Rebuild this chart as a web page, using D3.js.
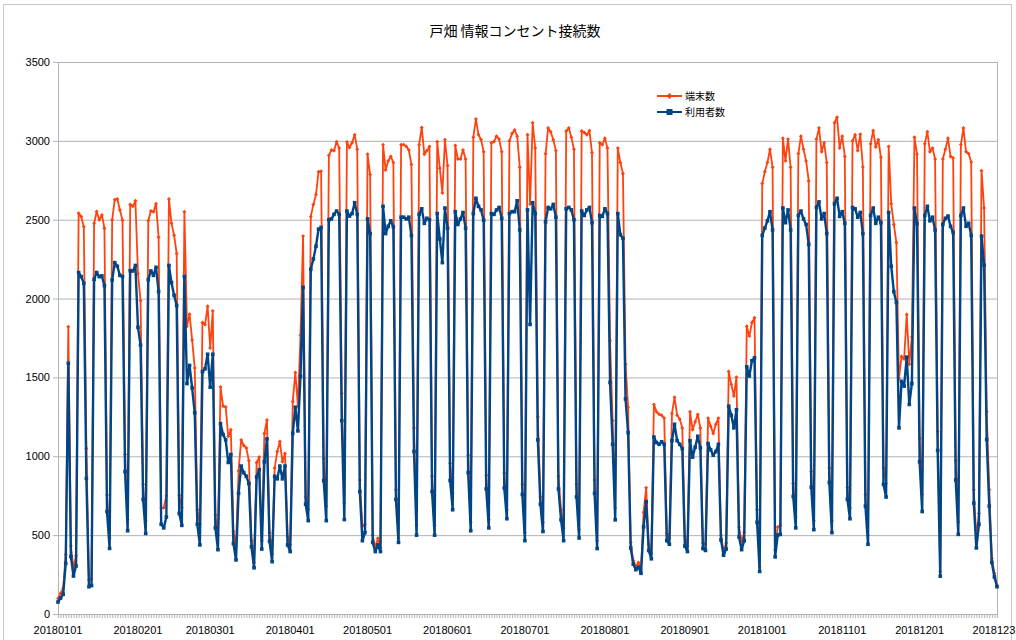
<!DOCTYPE html>
<html>
<head>
<meta charset="utf-8">
<script src="https://cdn.jsdelivr.net/npm/d3@7"></script>
<style>
body { margin: 0; background: #fff; }
text { font-family: "Liberation Sans", Arial, sans-serif; }
.cjk { font-family: "Noto Sans CJK JP", "Noto Sans", sans-serif; }
</style>
</head>
<body>
<svg id="chart" width="1016" height="640"></svg>
<script>
var title = "戸畑 情報コンセント接続数";
var seriesNames = ["端末数", "利用者数"];
var tickLabels = ["20180101", "20180201", "20180301", "20180401", "20180501", "20180601",
	"20180701", "20180801", "20180901", "20181001", "20181101", "20181201", "20181231"];
var yTicks = [0, 500, 1000, 1500, 2000, 2500, 3000, 3500];

// 端末数 (one value per day, 2018-01-01 .. 2018-12-31)
var terminals = [
	99, 131, 163, 378, 1822, 431, 290,
	370, 2541, 2520, 2456, 1050, 216, 222,
	2478, 2552, 2499, 2530, 2446, 755, 480,
	2499, 2627, 2631, 2562, 2497, 1011, 597,
	2597, 2585, 2620, 2159, 1986, 822, 592,
	2493, 2555, 2551, 2601, 2389, 673, 673,
	749, 2631, 2477, 2401, 2286, 753, 673,
	2551, 1825, 1901, 1737, 1560, 661, 569,
	1848, 1836, 1951, 1687, 1922, 627, 500,
	1440, 1318, 1313, 1127, 1168, 523, 431,
	908, 1104, 1069, 1053, 972, 465, 327,
	961, 995, 465, 1145, 1230, 516, 380,
	926, 1030, 1094, 965, 1018, 488, 440,
	1348, 1532, 1318, 1767, 2396, 742, 661,
	2521, 2597, 2659, 2804, 2808, 984, 684,
	2908, 2942, 2938, 2995, 2954, 1398, 703,
	2993, 2958, 2988, 3039, 2947, 850, 557,
	569, 2915, 2786, 500, 420, 480, 420,
	2976, 2815, 2873, 2901, 2862, 788, 480,
	2976, 2976, 2965, 2942, 2850, 1180, 562,
	2976, 3085, 2915, 2938, 2965, 873, 562,
	2995, 2827, 2670, 3007, 2843, 956, 765,
	2970, 2885, 2885, 2942, 2885, 1007, 581,
	3023, 3138, 3039, 3007, 2931, 880, 597,
	2988, 2995, 3030, 3011, 2931, 892, 661,
	3000, 3046, 3069, 3030, 2832, 823, 516,
	3039, 2600, 3115, 2954, 1249, 742, 580,
	2919, 3081, 3058, 3007, 2938, 873, 661,
	546, 3062, 3081, 3023, 2947, 823, 535,
	3062, 3053, 3039, 3065, 2924, 850, 465,
	2988, 2976, 3016, 2954, 1733, 1226, 673,
	2954, 2862, 2793, 1583, 1311, 454, 340,
	300, 327, 280, 645, 800, 440, 380,
	1329, 1283, 1267, 1260, 1242, 511, 480,
	1272, 1375, 1260, 1237, 1180, 493, 430,
	1283, 1168, 1219, 1265, 1180, 450, 440,
	1242, 1191, 1145, 1203, 1242, 500, 400,
	450, 1537, 1456, 1382, 1502, 551, 458,
	518, 1825, 1762, 1848, 1878, 661, 300,
	2730, 2804, 2862, 2947, 2832, 408, 551,
	562, 3016, 2873, 3011, 2832, 827, 615,
	2919, 3030, 2947, 2873, 2746, 903, 592,
	3011, 3081, 2931, 2988, 2862, 926, 592,
	3115, 3150, 2954, 3030, 2901, 800, 673,
	3000, 3039, 2938, 3042, 2834, 758, 500,
	2981, 3065, 2961, 3007, 2896, 926, 827,
	2965, 2601, 2470, 2355, 1491, 1633, 1617,
	1899, 1583, 1756, 3023, 2915, 1115, 758,
	2981, 3058, 2931, 2954, 2885, 1157, 270,
	2885, 2947, 3016, 2901, 2892, 972, 581,
	2976, 3081, 2931, 2919, 2866, 788, 480,
	638, 2811, 2574, 1283, 788, 350, 258,
	182
];

// 利用者数
var users = [
	76, 101, 125, 321, 1590, 364, 241,
	304, 2165, 2139, 2097, 860, 173, 180,
	2122, 2165, 2139, 2144, 2082, 649, 416,
	2118, 2228, 2205, 2147, 2140, 903, 528,
	2177, 2175, 2210, 1818, 1705, 726, 511,
	2120, 2175, 2147, 2198, 2044, 569, 546,
	615, 2210, 2101, 2021, 1956, 638, 562,
	2140, 1461, 1576, 1433, 1276, 569, 438,
	1537, 1555, 1647, 1438, 1647, 546, 408,
	1207, 1138, 1104, 961, 1011, 447, 343,
	765, 938, 896, 873, 827, 426, 293,
	869, 915, 412, 965, 1110, 461, 332,
	873, 857, 938, 857, 938, 438, 396,
	1145, 1311, 1161, 1507, 2071, 696, 592,
	2186, 2251, 2332, 2440, 2451, 846, 592,
	2500, 2505, 2534, 2555, 2534, 1226, 599,
	2555, 2523, 2539, 2608, 2534, 776, 465,
	516, 2505, 2412, 454, 396, 438, 396,
	2585, 2412, 2458, 2493, 2454, 726, 454,
	2516, 2516, 2505, 2516, 2400, 1030, 500,
	2534, 2569, 2477, 2509, 2500, 776, 500,
	2539, 2378, 2228, 2574, 2447, 846, 661,
	2551, 2470, 2505, 2546, 2447, 896, 528,
	2539, 2636, 2585, 2562, 2497, 793, 546,
	2539, 2534, 2562, 2578, 2509, 799, 604,
	2539, 2551, 2551, 2620, 2435, 758, 465,
	2562, 1836, 2608, 2539, 1104, 696, 523,
	2486, 2578, 2569, 2597, 2516, 793, 597,
	465, 2569, 2578, 2562, 2500, 742, 482,
	2555, 2527, 2562, 2578, 2481, 765, 415,
	2527, 2521, 2569, 2539, 1468, 1076, 597,
	2539, 2405, 2382, 1364, 1150, 419, 316,
	281, 297, 258, 553, 712, 403, 350,
	1122, 1087, 1076, 1092, 1076, 465, 442,
	1099, 1203, 1099, 1076, 1048, 431, 396,
	1099, 995, 1058, 1127, 1053, 415, 403,
	1081, 1041, 1007, 1030, 1076, 470, 373,
	412, 1318, 1260, 1180, 1295, 488, 408,
	465, 1567, 1509, 1606, 1624, 581, 270,
	2401, 2447, 2493, 2551, 2435, 362, 500,
	505, 2574, 2481, 2562, 2435, 746, 546,
	2527, 2555, 2505, 2470, 2344, 804, 535,
	2578, 2613, 2505, 2539, 2412, 834, 516,
	2601, 2636, 2521, 2551, 2477, 728, 604,
	2578, 2569, 2516, 2546, 2412, 684, 442,
	2527, 2574, 2477, 2516, 2481, 822, 742,
	2546, 2205, 2044, 1975, 1180, 1475, 1445,
	1629, 1329, 1461, 2574, 2475, 965, 650,
	2527, 2585, 2493, 2516, 2435, 1037, 240,
	2470, 2509, 2523, 2458, 2419, 850, 505,
	2527, 2574, 2458, 2477, 2401, 703, 419,
	569, 2396, 2212, 1106, 684, 327, 235,
	173
];

var parseDay = d3.timeParse("%Y%m%d");
var days = d3.timeDay.range(parseDay("20180101"), d3.timeDay.offset(parseDay("20181231"), 1));

var orange = "#ff420e", blue = "#004586", gridColor = "#b3b3b3";
var svg = d3.select("#chart");

var x = d3.scaleTime().domain([days[0], days[days.length - 1]]).range([58, 997]);
var y = d3.scaleLinear().domain([0, 3500]).range([614, 62]);

// outer frame
svg.append("rect").attr("x", 3.5).attr("y", 4.5).attr("width", 1008).attr("height", 640)
	.attr("fill", "none").attr("stroke", "#c8c8c8");

svg.append("text").attr("class", "cjk").attr("x", 515).attr("y", 36)
	.attr("text-anchor", "middle").attr("font-size", 14).attr("fill", "#000").text(title);

// horizontal grid + y labels
var yAxis = svg.append("g").attr("transform", "translate(58,0)")
	.call(d3.axisLeft(y).tickValues(yTicks).tickSize(5).tickSizeOuter(0).tickPadding(3).tickFormat(d3.format("d")));
yAxis.select(".domain").attr("stroke", gridColor);
yAxis.selectAll(".tick line").attr("stroke", gridColor);
yAxis.selectAll("text").attr("font-size", 11).attr("fill", "#000")
	.attr("font-family", "Liberation Sans, Arial, sans-serif");

svg.append("g").selectAll("line").data(yTicks.filter(function(v) { return v > 0; })).join("line")
	.attr("x1", 58).attr("x2", 997)
	.attr("y1", function(d) { return y(d) + 0.5; }).attr("y2", function(d) { return y(d) + 0.5; })
	.attr("stroke", gridColor);

svg.append("line").attr("x1", 997.5).attr("x2", 997.5).attr("y1", y(3500)).attr("y2", y(0))
	.attr("stroke", gridColor);

// daily ticks
var xAxis = svg.append("g").attr("transform", "translate(0,614)")
	.call(d3.axisBottom(x).tickValues(days).tickSize(4).tickSizeOuter(0).tickFormat(""));
xAxis.select(".domain").attr("stroke", gridColor);
xAxis.selectAll(".tick line").attr("stroke", gridColor);

// month labels (the last one runs off the right edge, as in the original)
svg.append("g").selectAll("text").data(tickLabels).join("text")
	.attr("x", function(d) { return x(parseDay(d)); }).attr("y", 634)
	.attr("text-anchor", "middle").attr("font-size", 11).attr("fill", "#000")
	.text(function(d) { return d; });

var line = function(vals) {
	return d3.line().x(function(d, i) { return x(days[i]); }).y(function(d) { return y(d); })(vals);
};

// 端末数
svg.append("path").attr("d", line(terminals)).attr("fill", "none")
	.attr("stroke", orange).attr("stroke-width", 1.8).attr("stroke-linejoin", "round");
svg.append("g").selectAll("path").data(terminals).join("path")
	.attr("d", d3.symbol(d3.symbolDiamond2, 10))
	.attr("transform", function(d, i) { return "translate(" + x(days[i]) + "," + y(d) + ")"; })
	.attr("fill", orange);

// 利用者数
svg.append("path").attr("d", line(users)).attr("fill", "none")
	.attr("stroke", blue).attr("stroke-width", 2.4).attr("stroke-linejoin", "round");
svg.append("g").selectAll("rect").data(users).join("rect")
	.attr("x", function(d, i) { return x(days[i]) - 1.8; }).attr("y", function(d) { return y(d) - 1.8; })
	.attr("width", 3.6).attr("height", 3.6).attr("fill", blue);

// legend
var legend = svg.append("g").attr("transform", "translate(657,96)");
[orange, blue].forEach(function(c, i) {
	var g = legend.append("g").attr("transform", "translate(0," + (i * 16) + ")");
	g.append("line").attr("x1", 0).attr("x2", 25).attr("stroke", c).attr("stroke-width", 2);
	if (i === 0) {
		g.append("path").attr("d", d3.symbol(d3.symbolDiamond2, 24)).attr("transform", "translate(12.5,0)").attr("fill", c);
	} else {
		g.append("rect").attr("x", 9.5).attr("y", -3).attr("width", 6).attr("height", 6).attr("fill", c);
	}
	g.append("text").attr("class", "cjk").attr("x", 28).attr("y", 3.5)
		.attr("font-size", 10).attr("fill", "#000").text(seriesNames[i]);
});
</script>
</body>
</html>
